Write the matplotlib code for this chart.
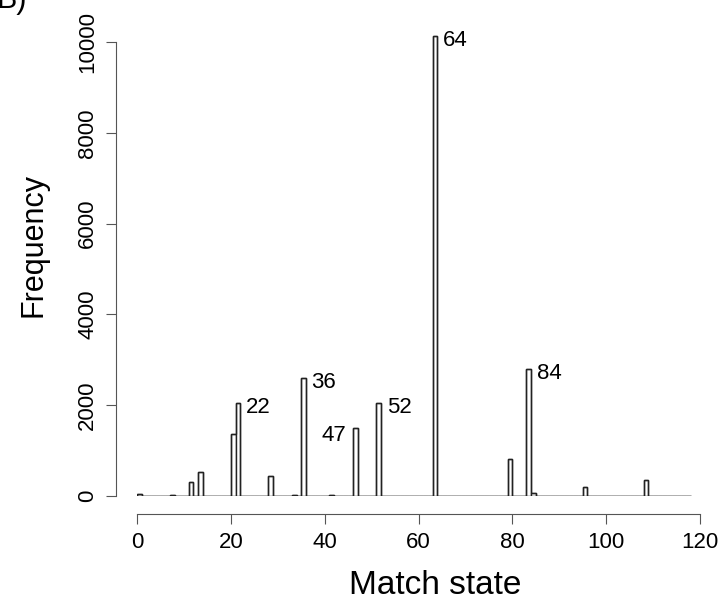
import matplotlib
matplotlib.use("Agg")
import matplotlib.pyplot as plt
import numpy as np

plt.rcParams['font.family'] = ['Liberation Sans', 'DejaVu Sans']

# histogram of match states, bins (k-1, k]
states = np.arange(1, 119)
counts = np.zeros(len(states))
peaks = {1: 40, 8: 15, 12: 310, 14: 530, 21: 1360, 22: 2040, 29: 440,
         34: 20, 36: 2590, 42: 15, 47: 1490, 52: 2040, 64: 10130,
         80: 810, 84: 2790, 85: 60, 96: 200, 109: 350}
for k, v in peaks.items():
    counts[k - 1] = v

labels = [22, 36, 47, 52, 64, 84]

fig = plt.figure(figsize=(7.25, 6.03), dpi=100)
ax = fig.add_axes([137/725, (603-496)/603, 563/725, 467/603])

ax.bar(states - 0.5, counts, width=1.0, facecolor='white',
       edgecolor='#222222', linewidth=1.0)
# outline so that empty bins show along the baseline
ax.stairs(counts, np.append(states - 1, states[-1]), color='#222222', linewidth=1.0)

for k in labels:
    h = counts[k - 1]
    if k == 47:
        ax.text(k - 2.3, h - 150, str(k), ha='right', va='center', fontsize=16)
    else:
        ax.text(k + 1.2, h - 100, str(k), ha='left', va='center', fontsize=16)

ax.set_xlim(0, 120)
ax.set_ylim(0, 10290)
ax.set_xticks(range(0, 121, 20))
ax.set_yticks(range(0, 10001, 2000))
ax.spines['top'].set_visible(False)
ax.spines['right'].set_visible(False)
ax.spines['left'].set_position(('outward', 15))
ax.spines['bottom'].set_position(('outward', 13))
ax.spines['left'].set_bounds(0, 10000)
ax.spines['bottom'].set_bounds(0, 120)
for s in ['left', 'bottom']:
    ax.spines[s].set_color('#555555')
ax.tick_params(direction='out', length=7, color='#555555', labelsize=16, pad=6)
for t in ax.get_yticklabels():
    t.set_rotation(90)
    t.set_va('center')

ax.set_xlabel("Match state", fontsize=24)
ax.set_ylabel("Frequency", fontsize=22)
ax.xaxis.set_label_coords(0.529, -0.158)
ax.yaxis.set_label_coords(-0.158, 0.537)

fig.text(-0.005, 1.025, "B)", fontsize=22, va='top', ha='left')

fig.savefig("out.png", dpi=100)
